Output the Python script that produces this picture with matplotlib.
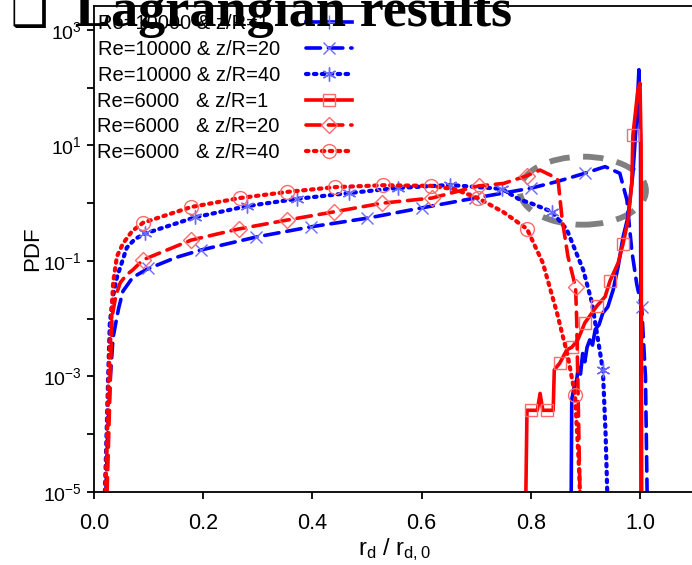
import math

import matplotlib
matplotlib.use("Agg")
import matplotlib.pyplot as plt
from matplotlib.lines import Line2D
from matplotlib.patches import Ellipse

plt.rcParams["font.family"] = ["Liberation Sans", "DejaVu Sans"]
plt.rcParams["mathtext.fontset"] = "custom"
plt.rcParams["mathtext.rm"] = "Liberation Sans"
plt.rcParams["mathtext.it"] = "Liberation Sans:italic"

# ---- data ----
labels = [
    "Re=10000 & z/R=1",
    "Re=10000 & z/R=20",
    "Re=10000 & z/R=40",
    "Re=6000   & z/R=1",
    "Re=6000   & z/R=20",
    "Re=6000   & z/R=40",
]

# Re=10000, z/R=1
b1_x = [0.874, 0.875, 0.879, 0.884, 0.887, 0.891, 0.895, 0.899, 0.903, 0.908, 0.913, 0.918,
        0.925, 0.932, 0.941, 0.951, 0.960, 0.969, 0.978, 0.987, 0.994, 0.998, 1.001, 1.002]
b1_y = [1e-5, 4e-4, 6.3e-4, 8.7e-4, 1.45e-3, 1.1e-3, 2.5e-3, 1.8e-3, 3.2e-3, 4.3e-3, 3.5e-3, 6.5e-3,
        7.9e-3, 0.0126, 0.016, 0.032, 0.08, 0.26, 0.58, 3.3, 31, 205, 10, 1e-5]

# Re=10000, z/R=20
b20_x = [0.022, 0.025, 0.030, 0.035, 0.045, 0.053, 0.071, 0.097, 0.15, 0.196, 0.297, 0.397, 0.50,
         0.60, 0.698, 0.80, 0.85, 0.899, 0.936, 0.963, 0.976, 0.985, 0.994, 1.003, 1.010, 1.013]
b20_y = [1e-5, 1e-4, 1e-3, 4.8e-3, 0.015, 0.03, 0.052, 0.072, 0.115, 0.155, 0.26, 0.39, 0.55,
         0.83, 1.23, 1.82, 2.4, 3.3, 4.3, 3.3, 1.14, 0.15, 0.04, 0.016, 1e-3, 1e-5]
b20_mx = [0.099, 0.196, 0.297, 0.397, 0.50, 0.60, 0.698, 0.80, 0.899, 1.003]
b20_my = [0.076, 0.155, 0.26, 0.39, 0.55, 0.83, 1.23, 1.82, 3.3, 0.016]

# Re=10000, z/R=40
b40_x = [0.020, 0.023, 0.026, 0.029, 0.035, 0.042, 0.060, 0.075, 0.094, 0.185, 0.28, 0.372,
         0.467, 0.557, 0.652, 0.747, 0.78, 0.80, 0.839, 0.866, 0.896, 0.912, 0.932, 0.937, 0.94]
b40_y = [1e-5, 1e-4, 1e-3, 8.5e-3, 0.025, 0.052, 0.17, 0.24, 0.3, 0.57, 0.89, 1.19,
         1.5, 1.84, 2.07, 1.77, 1.15, 1.0, 0.71, 0.35, 0.07, 0.019, 1.3e-3, 1e-4, 1e-5]
b40_mx = [0.094, 0.185, 0.28, 0.372, 0.467, 0.557, 0.652, 0.747, 0.839, 0.932]
b40_my = [0.3, 0.57, 0.89, 1.19, 1.5, 1.84, 2.07, 1.77, 0.71, 1.3e-3]

# Re=6000, z/R=1
r1_x = [0.791, 0.793, 0.812, 0.817, 0.822, 0.841, 0.843, 0.853, 0.866, 0.875, 0.886, 0.899,
        0.912, 0.921, 0.936, 0.945, 0.960, 0.969, 0.978, 0.985, 0.987, 0.992, 0.996, 1.000,
        1.002, 1.003]
r1_y = [1e-5, 2.6e-4, 2.6e-4, 5.1e-4, 2.6e-4, 2.6e-4, 1.3e-3, 1.7e-3, 2.9e-3, 3.2e-3, 4.3e-3, 8.5e-3,
        0.0126, 0.0166, 0.024, 0.045, 0.093, 0.2, 0.5, 2.2, 15, 40, 91, 120,
        10, 1e-5]
r1_mx = [0.80, 0.83, 0.853, 0.875, 0.899, 0.921, 0.945, 0.969, 0.987]
r1_my = [2.6e-4, 2.6e-4, 1.7e-3, 3.2e-3, 8.5e-3, 0.0166, 0.045, 0.2, 15]

# Re=6000, z/R=20
r20_x = [0.024, 0.027, 0.030, 0.033, 0.040, 0.048, 0.060, 0.071, 0.09, 0.178, 0.266, 0.353,
         0.44, 0.527, 0.619, 0.705, 0.75, 0.793, 0.817, 0.838, 0.850, 0.857, 0.868, 0.876,
         0.882, 0.884, 0.886, 0.888, 0.890]
r20_y = [1e-5, 1e-4, 1e-3, 0.0107, 0.025, 0.042, 0.058, 0.07, 0.105, 0.23, 0.36, 0.51,
         0.71, 1.0, 1.23, 2.0, 2.2, 3.0, 3.75, 3.0, 2.5, 0.57, 0.12, 0.06,
         0.035, 0.01, 1e-3, 1e-4, 1e-5]
r20_mx = [0.09, 0.178, 0.266, 0.353, 0.44, 0.527, 0.619, 0.705, 0.793, 0.882]
r20_my = [0.105, 0.23, 0.36, 0.51, 0.71, 1.0, 1.23, 2.0, 3.0, 0.035]

# Re=6000, z/R=40
r40_x = [0.021, 0.024, 0.027, 0.029, 0.035, 0.042, 0.053, 0.07, 0.09, 0.178, 0.267, 0.354,
         0.441, 0.53, 0.617, 0.66, 0.703, 0.75, 0.793, 0.822, 0.848, 0.868, 0.881, 0.885,
         0.888, 0.890]
r40_y = [1e-5, 1e-4, 1e-3, 2.9e-3, 0.042, 0.12, 0.2, 0.33, 0.46, 0.86, 1.23, 1.57,
         1.9, 2.05, 2.0, 1.75, 1.23, 0.7, 0.36, 0.093, 0.0126, 2.2e-3, 4.8e-4, 1e-4,
         3e-5, 1e-5]
r40_mx = [0.09, 0.178, 0.267, 0.354, 0.441, 0.53, 0.617, 0.703, 0.793, 0.881]
r40_my = [0.46, 0.86, 1.23, 1.57, 1.9, 2.05, 2.0, 1.23, 0.36, 4.8e-4]

x_ticks = [0.0, 0.2, 0.4, 0.6, 0.8, 1.0]
y_ticks = [1e-5, 1e-4, 1e-3, 1e-2, 1e-1, 1e0, 1e1, 1e2, 1e3]

BLUE = "#0000ff"
RED = "#ff0000"
BLUE_M = "#6a6aff"
RED_M = "#ff6a6a"

fig = plt.figure(figsize=(6.92, 5.65), dpi=100)
ax = fig.add_axes([94 / 692, 73 / 565, 600.6 / 692, 486 / 565])

DOT = (0, (0.6, 1.3))
DASH = (0, (4, 2.2))
styles = [
    dict(color=BLUE, ls="-", lw=2.6, marker="+", ms=10, mc=BLUE_M),
    dict(color=BLUE, ls=DASH, lw=2.6, marker="x", ms=9, mc=BLUE_M),
    dict(color=BLUE, ls=DOT, lw=3.0, marker=(6, 2, 0), ms=10, mc=BLUE_M),
    dict(color=RED, ls="-", lw=2.6, marker="s", ms=9, mc=RED_M),
    dict(color=RED, ls=DASH, lw=2.6, marker="D", ms=8.5, mc=RED_M),
    dict(color=RED, ls=DOT, lw=3.0, marker="o", ms=10, mc=RED_M),
]
curves = [
    (b1_x, b1_y, [], []),
    (b20_x, b20_y, b20_mx, b20_my),
    (b40_x, b40_y, b40_mx, b40_my),
    (r1_x, r1_y, r1_mx, r1_my),
    (r20_x, r20_y, r20_mx, r20_my),
    (r40_x, r40_y, r40_mx, r40_my),
]

handles = []
for (cx, cy, mx, my), st in zip(curves, styles):
    ax.plot(cx, cy, color=st["color"], ls=st["ls"], lw=st["lw"],
            dash_capstyle="round", solid_joinstyle="round")
    if mx:
        ax.plot(mx, my, ls="none", marker=st["marker"], ms=st["ms"], mfc="none",
                mec=st["mc"], mew=1.0)
    handles.append(Line2D([], [], color=st["color"], ls=st["ls"], lw=st["lw"],
                          marker=st["marker"], ms=st["ms"], mfc="none",
                          mec=st["mc"], mew=1.0, dash_capstyle="round"))

# gray highlight ellipse
ax.add_patch(Ellipse((0.814, 0.62), 0.21, 0.14, transform=ax.transAxes,
                     fill=False, ec="#808080", lw=4.2, ls=(0, (3.5, 2.3))))

ax.set_yscale("log")
ax.set_xlim(0, 1.1)
ax.set_ylim(1e-5, 10 ** 3.415)
ax.set_yticks(y_ticks)
ax.set_yticklabels([r"$\mathregular{10^{%d}}$" % round(math.log10(v))
                    if round(math.log10(v)) % 2 else "" for v in y_ticks])
ax.minorticks_off()
ax.set_xticks(x_ticks)
ax.set_xticklabels(["%.1f" % v for v in x_ticks])
ax.tick_params(direction="out", length=5, width=1.3, labelsize=14, pad=4)
ax.tick_params(axis="x", pad=10, labelsize=15.5)
for s in ax.spines.values():
    s.set_linewidth(1.3)

ax.set_ylabel("PDF", fontsize=16, labelpad=0)
ax.set_xlabel(r"r$_\mathregular{d}$ / r$_\mathregular{d,0}$", fontsize=17, labelpad=2)

# legend: text on the left, samples aligned in one column on the right
padded = [t + "  " if t.endswith("=1") else t for t in labels]
ax.legend(handles, padded, loc="upper left", bbox_to_anchor=(-0.008, 1.0),
          frameon=False, markerfirst=False, fontsize=14.5, handlelength=2.3,
          handletextpad=1.3, labelspacing=0.34, borderaxespad=0.0, borderpad=0.4)

fig.text(75 / 692, 1 - 26 / 565, "Lagrangian results", family="Liberation Serif",
         weight="bold", fontsize=39, va="baseline", ha="left")
fig.text(11 / 692, 1 - 26 / 565, "\u2751", family="DejaVu Sans",
         fontsize=30, va="baseline", ha="left")

fig.savefig("out.png", dpi=100)
